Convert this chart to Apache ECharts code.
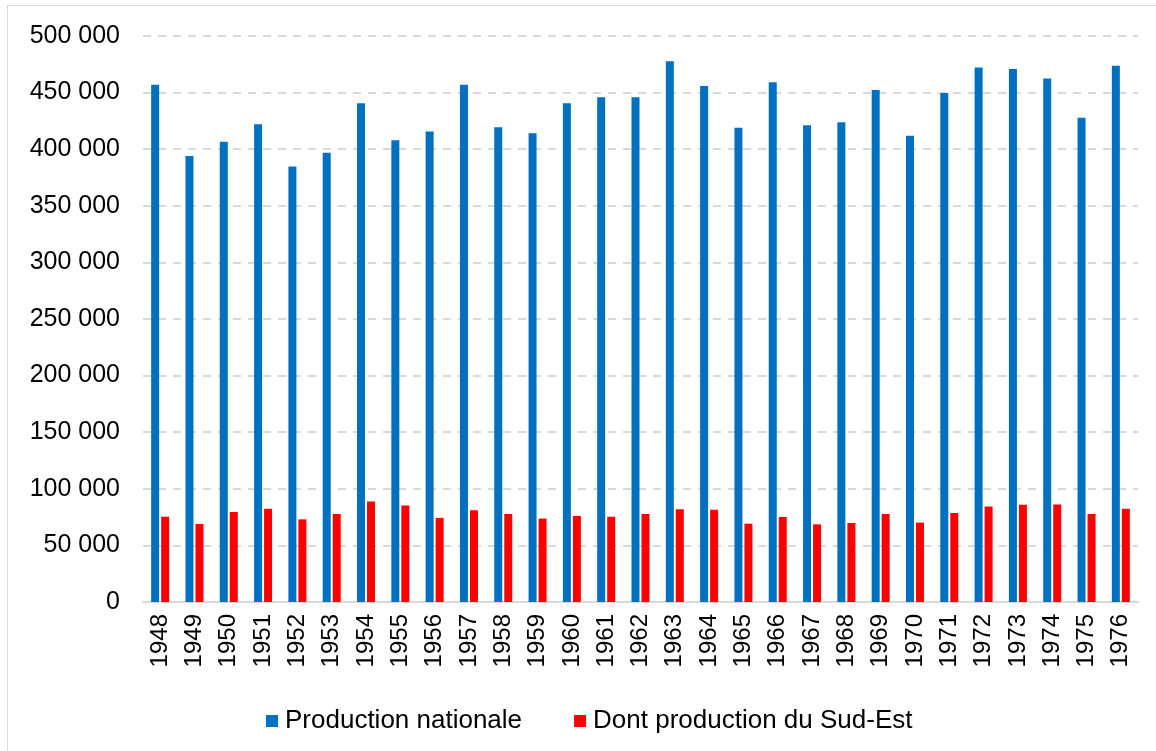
<!DOCTYPE html>
<html>
<head>
<meta charset="utf-8">
<script src="https://cdn.jsdelivr.net/npm/echarts@6/dist/echarts.min.js"></script>
<style>
  html, body { margin: 0; padding: 0; background: #fff; }
  #chart { width: 1156px; height: 751px; }
</style>
</head>
<body>
<div id="chart"></div>
<script>
// Years of the series
const years = ['1948','1949','1950','1951','1952','1953','1954','1955','1956','1957',
  '1958','1959','1960','1961','1962','1963','1964','1965','1966','1967',
  '1968','1969','1970','1971','1972','1973','1974','1975','1976'];

// National production
const productionNationale = [457000, 394000, 406500, 422000, 384700, 396800, 440600, 408000, 415600, 457000,
  419500, 414200, 440600, 446000, 446000, 477700, 455900, 418900, 459200, 421200,
  423900, 452400, 411800, 449700, 472100, 470900, 462400, 427700, 473800];

// Of which: South-East production
const productionSudEst = [75400, 69000, 79600, 82300, 73000, 77800, 88700, 85200, 74300, 81000,
  77800, 73700, 76000, 75400, 77800, 81900, 81400, 69200, 75100, 68600,
  69800, 77800, 70100, 78700, 84300, 85800, 86100, 77800, 82300];

const seriesNames = ['Production nationale', 'Dont production du Sud-Est'];
const yTicks = { min: 0, max: 500000, interval: 50000 };

function formatThousands(v) {
  return String(v).replace(/\B(?=(\d{3})+(?!\d))/g, ' ');
}

const chart = echarts.init(document.getElementById('chart'));
const font = 'Arial, "Liberation Sans", sans-serif';

chart.setOption({
  animation: false,
  textStyle: { fontFamily: font },
  graphic: [{
    type: 'rect',
    shape: { x: 7.5, y: 5.5, width: 1160, height: 760 },
    style: { fill: 'none', stroke: '#d9d9d9', lineWidth: 1 },
    silent: true
  }],
  grid: { left: 143, right: 18, top: 36, bottom: 149 },
  legend: {
    data: seriesNames,
    left: 261,
    top: 703,
    itemWidth: 12,
    itemHeight: 12,
    itemGap: 52,
    icon: 'rect',
    textStyle: { fontSize: 26, color: '#000', fontFamily: font, padding: [0, 0, 0, 2] }
  },
  xAxis: {
    type: 'category',
    data: years,
    axisTick: { show: false },
    axisLine: { lineStyle: { color: '#d9d9d9', width: 2 } },
    axisLabel: { rotate: 90, fontSize: 24, color: '#000', margin: 12, fontFamily: font }
  },
  yAxis: {
    type: 'value',
    min: yTicks.min,
    max: yTicks.max,
    interval: yTicks.interval,
    axisLine: { show: false },
    axisTick: { show: false },
    splitLine: { lineStyle: { color: '#d9d9d9', width: 2, type: [8, 7] } },
    axisLabel: { fontSize: 25, color: '#000', margin: 23, fontFamily: font, formatter: formatThousands }
  },
  series: [
    {
      name: seriesNames[0],
      type: 'bar',
      data: productionNationale,
      barWidth: 8,
      barGap: '25%',
      itemStyle: { color: '#0070C0' }
    },
    {
      name: seriesNames[1],
      type: 'bar',
      data: productionSudEst,
      barWidth: 8,
      itemStyle: { color: '#FF0000' }
    }
  ]
});
</script>
</body>
</html>
